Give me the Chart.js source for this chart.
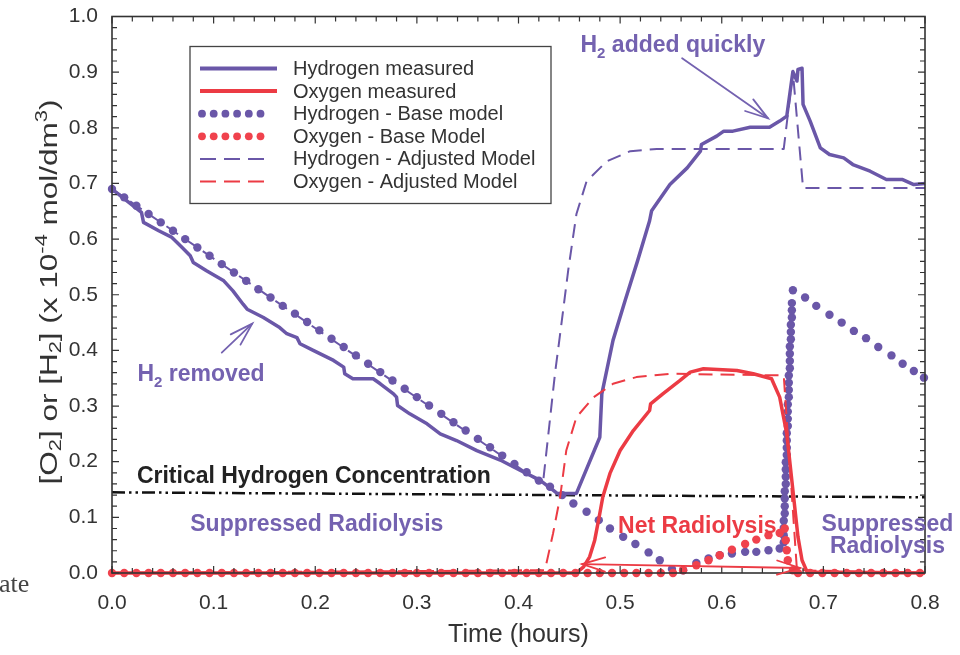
<!DOCTYPE html>
<html><head><meta charset="utf-8">
<script src="https://cdn.jsdelivr.net/npm/chart.js@4.4.1/dist/chart.umd.min.js"></script>
<style>html,body{margin:0;padding:0;background:#fff;}#wrap{width:960px;height:655px;}</style>
</head><body><div id="wrap"><canvas id="c" width="960" height="655"></canvas></div>
<script>
// ---------------- DATA ----------------
const xTickLabels = ['0.0','0.1','0.2','0.3','0.4','0.5','0.6','0.7','0.8'];
const yTickLabels = ['0.0','0.1','0.2','0.3','0.4','0.5','0.6','0.7','0.8','0.9','1.0'];
const seriesNames = ['Hydrogen measured','Oxygen measured','Hydrogen - Base model','Oxygen - Base Model','Hydrogen - Adjusted Model','Oxygen - Adjusted Model'];

const h2MeasT = [0,0.029,0.031,0.046,0.059,0.069,0.077,0.080,0.093,0.110,0.119,0.129,0.133,0.149,0.165,0.172,0.182,0.185,0.198,0.218,0.228,0.229,0.237,0.257,0.264,0.277,0.280,0.281,0.293,0.310,0.323,0.339,0.359,0.382,0.401,0.421,0.434,0.438,0.457,0.480,0.482,0.493,0.505,0.517,0.529,0.531,0.549,0.566,0.579,0.580,0.595,0.602,0.611,0.628,0.647,0.657,0.664,0.670,0.674,0.675,0.679,0.680,0.687,0.697,0.706,0.720,0.729,0.746,0.762,0.778,0.789,0.800];
const h2MeasV = [0.690,0.648,0.630,0.615,0.603,0.585,0.570,0.558,0.543,0.525,0.507,0.483,0.474,0.459,0.441,0.430,0.423,0.412,0.400,0.382,0.370,0.358,0.349,0.349,0.340,0.322,0.316,0.301,0.286,0.268,0.250,0.238,0.220,0.203,0.185,0.167,0.149,0.143,0.143,0.244,0.322,0.418,0.490,0.560,0.633,0.651,0.698,0.728,0.758,0.770,0.785,0.794,0.794,0.801,0.801,0.812,0.821,0.901,0.884,0.905,0.907,0.842,0.812,0.764,0.752,0.746,0.734,0.722,0.707,0.707,0.698,0.700];

const o2MeasT = [0,0.457,0.464,0.470,0.475,0.480,0.483,0.490,0.500,0.513,0.529,0.530,0.542,0.559,0.569,0.582,0.615,0.631,0.649,0.657,0.664,0.670,0.675,0.679,0.684,0.800];
const o2MeasV = [0,0,0.011,0.029,0.059,0.107,0.137,0.179,0.220,0.256,0.292,0.304,0.322,0.346,0.361,0.367,0.364,0.358,0.349,0.316,0.250,0.149,0.065,0.023,0.002,0];

const h2BaseT = [0,0.012,0.024,0.036,0.048,0.060,0.072,0.084,0.096,0.108,0.120,0.132,0.144,0.156,0.168,0.180,0.192,0.204,0.216,0.228,0.240,0.252,0.264,0.276,0.288,0.300,0.312,0.324,0.336,0.348,0.360,0.372,0.384,0.396,0.408,0.420,
  0.431,0.443,0.454,0.467,0.479,0.490,0.503,0.515,0.528,0.539,0.551,0.562,0.575,0.587,0.598,0.610,0.623,0.634,0.646,0.657,
  0.661,0.661,0.661,0.661,0.662,0.662,0.662,0.662,0.663,0.663,0.663,0.663,0.664,0.664,0.664,0.664,0.665,0.665,0.665,0.665,0.666,0.666,0.666,0.666,0.667,0.667,0.667,0.667,0.668,0.668,0.668,0.669,0.669,0.669,0.670,
  0.682,0.693,0.706,0.718,0.730,0.742,0.754,0.767,0.778,0.789,0.799];
const h2BaseV = [0.690,0.675,0.660,0.645,0.630,0.615,0.600,0.585,0.570,0.555,0.540,0.525,0.510,0.495,0.480,0.466,0.451,0.436,0.421,0.406,0.391,0.376,0.361,0.346,0.331,0.316,0.301,0.286,0.271,0.256,0.241,0.226,0.211,0.196,0.181,0.166,
  0.155,0.140,0.125,0.110,0.095,0.080,0.065,0.052,0.037,0.023,0.007,0.005,0.018,0.026,0.032,0.035,0.038,0.038,0.041,0.044,
  0.055,0.068,0.081,0.094,0.107,0.120,0.134,0.147,0.160,0.173,0.186,0.199,0.212,0.225,0.238,0.251,0.264,0.277,0.290,0.303,0.316,0.329,0.342,0.355,0.368,0.381,0.394,0.407,0.420,0.433,0.446,0.459,0.472,0.485,0.508,
  0.495,0.480,0.464,0.450,0.435,0.422,0.406,0.391,0.376,0.363,0.351];

const o2BaseT = [0,0.012,0.024,0.036,0.048,0.060,0.072,0.084,0.096,0.108,0.120,0.132,0.144,0.156,0.168,0.180,0.192,0.204,0.216,0.228,0.240,0.252,0.264,0.276,0.288,0.300,0.312,0.324,0.336,0.348,0.360,0.372,0.384,0.396,0.408,0.420,0.432,0.444,0.456,0.468,0.480,0.492,0.504,0.516,0.528,0.540,0.552,
  0.562,0.575,0.587,0.598,0.610,0.623,0.634,0.646,0.657,0.662,0.663,0.664,0.665,0.670,0.675,
  0.687,0.699,0.711,0.723,0.735,0.747,0.759,0.771,0.783,0.795];
const o2BaseV = [0,0,0,0,0,0,0,0,0,0,0,0,0,0,0,0,0,0,0,0,0,0,0,0,0,0,0,0,0,0,0,0,0,0,0,0,0,0,0,0,0,0,0,0,0,0,0,
  0.005,0.014,0.023,0.032,0.042,0.052,0.060,0.068,0.072,0.080,0.059,0.041,0.023,0.005,0,
  0,0,0,0,0,0,0,0,0,0];

const h2AdjT = [0,0.424,0.430,0.436,0.441,0.449,0.457,0.467,0.487,0.510,0.536,0.661,0.670,0.680,0.800];
const h2AdjV = [0.690,0.160,0.260,0.360,0.430,0.545,0.645,0.704,0.740,0.758,0.762,0.762,0.900,0.692,0.692];

const o2AdjT = [0,0.426,0.434,0.441,0.447,0.457,0.474,0.493,0.516,0.549,0.661,0.674,0.800];
const o2AdjV = [0,0.005,0.071,0.137,0.220,0.280,0.316,0.340,0.352,0.358,0.355,0.005,0];

const criticalT = [0,0.8];
const criticalV = [0.145,0.136];

// ---------------- STYLE ----------------
const PURPLE = '#6a57a8';
const PURPLE_TXT = '#7462b0';
const RED = '#ec3b44';
const RED_DOT = '#f0424d';
const FONT = '"Liberation Sans", Arial, Helvetica, sans-serif';
const TXT = '#333333';

const pts = (T, V) => T.map((t, i) => ({x: t, y: V[i]}));

const datasets = [
  {label: seriesNames[0], data: pts(h2MeasT, h2MeasV), borderColor: PURPLE, borderWidth: 3.5, pointRadius: 0, order: 3, kind: 'solid'},
  {label: seriesNames[1], data: pts(o2MeasT, o2MeasV), borderColor: RED, borderWidth: 3.5, pointRadius: 0, order: 1, kind: 'solid'},
  {label: seriesNames[2], data: pts(h2BaseT, h2BaseV), borderColor: PURPLE, backgroundColor: PURPLE, showLine: false, pointRadius: 4.2, pointBorderWidth: 0, pointBackgroundColor: PURPLE, order: 4, kind: 'dots'},
  {label: seriesNames[3], data: pts(o2BaseT, o2BaseV), borderColor: RED_DOT, backgroundColor: RED_DOT, showLine: false, pointRadius: 4.2, pointBorderWidth: 0, pointBackgroundColor: RED_DOT, order: 0, kind: 'dots'},
  {label: seriesNames[4], data: pts(h2AdjT, h2AdjV), borderColor: PURPLE, borderWidth: 2, borderDash: [14, 8], pointRadius: 0, order: 5, kind: 'dash'},
  {label: seriesNames[5], data: pts(o2AdjT, o2AdjV), borderColor: RED, borderWidth: 2, borderDash: [14, 8], pointRadius: 0, order: 2, kind: 'dash'},
  {label: 'Critical Hydrogen Concentration', data: pts(criticalT, criticalV), borderColor: '#111', borderWidth: 2.5, borderDash: [13, 4, 2.5, 4, 2.5, 4], pointRadius: 0, order: 6, kind: 'crit'}
];
datasets.forEach(d => { d.tension = 0; d.clip = false; d.fill = false; d.borderJoinStyle = 'round'; });

// annotation positions in data units
const notes = [
  {segs: [['H', 23, 'bold', 0], ['2', 15, 'bold', 6], [' added quickly', 23, 'bold', 0]], x: 0.461, y: 0.936, align: 'left', color: PURPLE_TXT},
  {segs: [['H', 23, 'bold', 0], ['2', 15, 'bold', 6], [' removed', 23, 'bold', 0]], x: 0.025, y: 0.345, align: 'left', color: PURPLE_TXT},
  {segs: [['Critical Hydrogen Concentration', 23, 'bold', 0]], x: 0.0245, y: 0.162, align: 'left', color: '#222'},
  {segs: [['Suppressed Radiolysis', 23, 'bold', 0]], x: 0.077, y: 0.075, align: 'left', color: PURPLE_TXT},
  {segs: [['Net Radiolysis', 23, 'bold', 0]], x: 0.498, y: 0.072, align: 'left', color: RED},
  {segs: [['Suppressed', 23, 'bold', 0]], x: 0.763, y: 0.075, align: 'center', color: PURPLE_TXT},
  {segs: [['Radiolysis', 23, 'bold', 0]], x: 0.763, y: 0.036, align: 'center', color: PURPLE_TXT}
];
const arrows = [
  {x1: 0.561, y1: 0.925, x2: 0.6455, y2: 0.817, both: false, color: PURPLE_TXT},
  {x1: 0.108, y1: 0.396, x2: 0.138, y2: 0.448, both: false, color: PURPLE_TXT},
  {x1: 0.4626, y1: 0.016, x2: 0.677, y2: 0.009, both: true, color: RED}
];

function measureRich(ctx, segs) {
  let total = 0;
  segs.forEach(s => { ctx.font = `${s[2]} ${s[1]}px ${FONT}`; total += ctx.measureText(s[0]).width; });
  return total;
}
function drawRich(ctx, x, y, segs, align) {
  const total = measureRich(ctx, segs);
  let cx = align === 'center' ? x - total / 2 : x;
  segs.forEach(s => { ctx.font = `${s[2]} ${s[1]}px ${FONT}`; ctx.fillText(s[0], cx, y + s[3]); cx += ctx.measureText(s[0]).width; });
}
function head(ctx, x1, y1, x2, y2, len, ang) {
  const a = Math.atan2(y2 - y1, x2 - x1);
  ctx.beginPath();
  ctx.moveTo(x2 - len * Math.cos(a - ang), y2 - len * Math.sin(a - ang));
  ctx.lineTo(x2, y2);
  ctx.lineTo(x2 - len * Math.cos(a + ang), y2 - len * Math.sin(a + ang));
  ctx.stroke();
}

const decor = {
  id: 'decor',
  afterDatasetsDraw(chart) {
    const {ctx, chartArea: ca, scales: {x, y}} = chart;
    ctx.save();
    // frame
    ctx.strokeStyle = '#333'; ctx.lineWidth = 1.6; ctx.setLineDash([]);
    ctx.strokeRect(ca.left, ca.top, ca.right - ca.left, ca.bottom - ca.top);
    // inward ticks
    ctx.lineWidth = 1.2;
    ctx.beginPath();
    for (let i = 0; i <= 40; i++) {
      const v = i * 0.02, major = i % 5 === 0, L = major ? 7 : 5;
      const px = x.getPixelForValue(v);
      ctx.moveTo(px, ca.bottom); ctx.lineTo(px, ca.bottom - L);
      ctx.moveTo(px, ca.top); ctx.lineTo(px, ca.top + L);
    }
    for (let i = 0; i <= 50; i++) {
      const v = i * 0.02, major = i % 5 === 0, L = major ? 7 : 5;
      const py = y.getPixelForValue(v);
      ctx.moveTo(ca.left, py); ctx.lineTo(ca.left + L, py);
      ctx.moveTo(ca.right, py); ctx.lineTo(ca.right - L, py);
    }
    ctx.stroke();

    // annotations
    ctx.textBaseline = 'alphabetic';
    notes.forEach(n => { ctx.fillStyle = n.color; drawRich(ctx, x.getPixelForValue(n.x), y.getPixelForValue(n.y), n.segs, n.align); });
    arrows.forEach(a => {
      const x1 = x.getPixelForValue(a.x1), y1 = y.getPixelForValue(a.y1), x2 = x.getPixelForValue(a.x2), y2 = y.getPixelForValue(a.y2);
      ctx.strokeStyle = a.color; ctx.lineWidth = 1.8; ctx.lineCap = 'round';
      ctx.beginPath(); ctx.moveTo(x1, y1); ctx.lineTo(x2, y2); ctx.stroke();
      head(ctx, x1, y1, x2, y2, 24, 0.3);
      if (a.both) head(ctx, x2, y2, x1, y1, 24, 0.3);
    });

    // legend
    const L0 = ca.left + 78, T0 = ca.top + 30, W = 361, H = 157;
    ctx.fillStyle = '#fff'; ctx.fillRect(L0, T0, W, H);
    ctx.strokeStyle = '#444'; ctx.lineWidth = 1.3; ctx.strokeRect(L0, T0, W, H);
    ctx.font = `20px ${FONT}`; ctx.textBaseline = 'middle'; ctx.textAlign = 'left';
    for (let i = 0; i < 6; i++) {
      const d = chart.data.datasets[i];
      const cy = T0 + 22 + i * 22.6;
      const sx = L0 + 10, ex = L0 + 87;
      if (d.kind === 'dots') {
        ctx.fillStyle = d.pointBackgroundColor;
        for (let k = 0; k < 6; k++) { ctx.beginPath(); ctx.arc(sx + 2 + k * 11.7, cy, 3.9, 0, Math.PI * 2); ctx.fill(); }
      } else {
        ctx.strokeStyle = d.borderColor; ctx.lineWidth = d.kind === 'solid' ? 4 : 2;
        ctx.setLineDash(d.kind === 'dash' ? [16, 8] : []);
        ctx.lineCap = 'butt';
        ctx.beginPath(); ctx.moveTo(sx, cy); ctx.lineTo(d.kind === 'dash' ? sx + 68 : ex, cy); ctx.stroke();
        ctx.setLineDash([]);
      }
      ctx.fillStyle = TXT;
      ctx.fillText(d.label, L0 + 103, cy + 1);
    }
    ctx.restore();
  },
  afterDraw(chart) {
    const {ctx} = chart;
    ctx.save();
    // y axis title with sub/superscripts, centred on the reference position and length
    const segs = [['[O', 23, 'normal', 0], ['2', 16, 'normal', 6], ['] or [H', 23, 'normal', 0], ['2', 16, 'normal', 6], ['] (x 10', 23, 'normal', 0], ['-4', 16, 'normal', -8], [' mol/dm', 23, 'normal', 0], ['3', 16, 'normal', -8], [')', 23, 'normal', 0]];
    const total = measureRich(ctx, segs);
    ctx.translate(51, 292);
    ctx.rotate(-Math.PI / 2);
    ctx.scale(385 / total, 1);
    ctx.fillStyle = TXT; ctx.textBaseline = 'middle';
    drawRich(ctx, 0, 0, segs, 'center');
    ctx.restore();
    // stray cropped caption text at the left edge
    ctx.save();
    ctx.fillStyle = '#444'; ctx.font = '26px "Liberation Serif", "Times New Roman", serif'; ctx.textBaseline = 'alphabetic';
    ctx.fillText('ate', -1, 592);
    ctx.restore();
  }
};

Chart.defaults.font.family = FONT;
new Chart(document.getElementById('c'), {
  type: 'line',
  data: {datasets},
  options: {
    responsive: false, animation: false, devicePixelRatio: 1,
    layout: {padding: {left: 0, right: 35, top: 5, bottom: 0}},
    plugins: {legend: {display: false}, tooltip: {enabled: false}},
    scales: {
      x: {type: 'linear', min: 0, max: 0.8,
        grid: {display: false}, border: {display: false},
        ticks: {stepSize: 0.1, padding: 10, color: TXT, font: {size: 21}, maxRotation: 0, autoSkip: false,
          callback: (v) => xTickLabels[Math.round(v * 10)]},
        title: {display: true, text: 'Time (hours)', color: TXT, font: {size: 25}, padding: {top: 4, bottom: 5}},
        afterFit: s => { s.height = 82; }
      },
      y: {type: 'linear', min: 0, max: 1,
        grid: {display: false}, border: {display: false},
        ticks: {stepSize: 0.1, padding: 6, color: TXT, font: {size: 21, lineHeight: 1.0},
          callback: (v) => yTickLabels[Math.round(v * 10)]},
        afterFit: s => { s.width = 112; }
      }
    }
  },
  plugins: [decor]
});
</script></body></html>
